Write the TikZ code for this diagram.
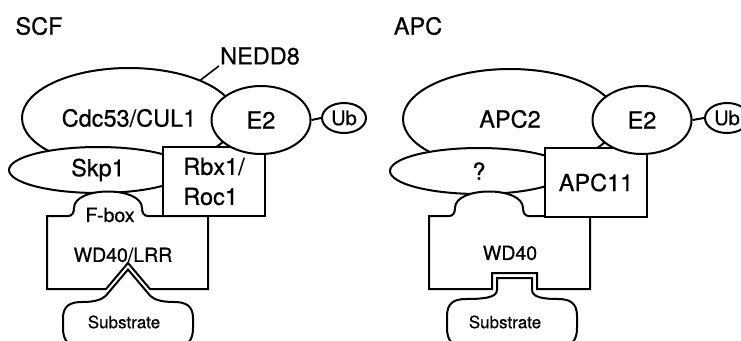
\documentclass[tikz,border=0pt]{standalone}
\usepackage{fontspec}
\setmainfont{TeX Gyre Heros}[FakeBold=0.6]
\usepackage{xcolor}
\definecolor{diaLine}{HTML}{000000}
\usepackage{tikz}
\usetikzlibrary{shapes.geometric,positioning}
\newcommand{\protfont}{\fontsize{23.5}{30}\selectfont}
\newcommand{\domfont}{\fontsize{19.5}{22}\selectfont}
\newcommand{\subsfont}{\fontsize{17}{19}\selectfont}
\newcommand{\ubfont}{\fontsize{20}{22}\selectfont}
\tikzset{
    protein/.style={
        draw=diaLine,
        fill=white,
        ellipse,
        inner sep=0pt,
        line width=2pt,
        font=\protfont
    },
    subunit/.style={
        draw=diaLine,
        fill=white,
        rectangle,
        align=left,
        inner sep=0pt,
        minimum width=102pt,
        minimum height=69pt,
        line width=2pt,
        font=\protfont
    },
    ubq/.style={
        draw=diaLine,
        fill=white,
        ellipse,
        inner sep=0pt,
        minimum width=44pt,
        minimum height=30pt,
        line width=2pt,
        font=\ubfont
    },
    title/.style={
        font=\protfont,
        inner sep=1pt
    },
    dompart/.style={
        draw=diaLine,
        fill=white,
        line width=2pt,
        line join=miter
    },
    domtext/.style={
        font=\domfont,
        inner sep=0pt
    },
    subtext/.style={
        font=\subsfont,
        inner sep=0pt
    },
    link/.style={
        draw=diaLine,
        line width=2pt
    }
}

\begin{document}
\begin{tikzpicture}[x=1pt,y=-1pt]
    \useasboundingbox (0,0) rectangle (741,340);
    \clip (0,0) rectangle (741,340);
    \fill[white] (0,0) rectangle (741,340);

    % SCF
    \node[title] (scf) at (39,26) {SCF};
    \node[protein, minimum width=214pt, minimum height=100pt] (cul) at (129,118) {Cdc53/CUL1};
    \node[title] (nedd) at (260,56) {NEDD8};
    \draw[link, line width=1.6pt] (cul.28) -- (nedd.south west);
    \node[protein, minimum width=178pt, minimum height=46pt] (skp) at (98,170) {Skp1};
    \draw[dompart] (47,216) -- (68,216)
        .. controls (72,216) and (74,213) .. (74,208)
        .. controls (74,186) and (142,186) .. (142,208)
        .. controls (142,213) and (144,216) .. (148,216)
        -- (208,216) -- (208,289) -- (150,289) -- (128,263) -- (106,289) -- (47,289) -- cycle;
    \node[domtext] (fbox) at (110,215) {F-box};
    \node[domtext] (lrr) at (123,255) {WD40/LRR};
    \node[subunit] (rbx) at (214,181.5) {Rbx1/\\Roc1};
    \node[protein, minimum width=99pt, minimum height=68pt] (etwoL) at (261,120) {E2};
    \node[ubq] (ubL) at (344,118) {Ub};
    \draw[link] (etwoL.east) -- (ubL.west);
    \draw[dompart] (63,328) -- (63,318)
        .. controls (63,306) and (70,302) .. (82,302)
        .. controls (94,302) and (101,300) .. (105.6,296)
        -- (128,269.5) -- (150.4,296)
        .. controls (155,300) and (162,302) .. (174,302)
        .. controls (186,302) and (193,306) .. (193,318)
        -- (193,328) .. controls (193,340) and (188,346) .. (178,346)
        -- (78,346) .. controls (68,346) and (63,340) .. (63,328) -- cycle;
    \node[subtext] (subL) at (124,322) {Substrate};

    % APC
    \node[title] (apc) at (418,26) {APC};
    \node[protein, minimum width=214pt, minimum height=100pt] (apctwo) at (510,119) {APC2};
    \node[protein, minimum width=178pt, minimum height=46pt] (unk) at (479,171) {?};
    \draw[dompart] (429,216) -- (449,216)
        .. controls (453,216) and (455,213) .. (455,208)
        .. controls (455,186) and (523,186) .. (523,208)
        .. controls (523,213) and (525,216) .. (529,216)
        -- (590,216) -- (590,289) -- (537,289) -- (537,273) -- (492,273) -- (492,289) -- (429,289) -- cycle;
    \node[domtext] (wd) at (510,253) {WD40};
    \node[subunit] (apceleven) at (596,182.5) {APC11};
    \node[protein, minimum width=99pt, minimum height=68pt] (etwoR) at (642,120) {E2};
    \node[ubq] (ubR) at (727,118) {Ub};
    \draw[link] (etwoR.east) -- (ubR.west);
    \draw[dompart] (447,328) -- (447,316)
        .. controls (447,303) and (454,299) .. (466,299)
        .. controls (482,299) and (497,298) .. (497,290)
        -- (497,278) -- (532,278) -- (532,290)
        .. controls (532,298) and (546,299) .. (558,299)
        .. controls (570,299) and (577,303) .. (577,316)
        -- (577,328) .. controls (577,340) and (572,346) .. (562,346)
        -- (462,346) .. controls (452,346) and (447,340) .. (447,328) -- cycle;
    \node[subtext] (subR) at (505,322) {Substrate};
\end{tikzpicture}
\end{document}
